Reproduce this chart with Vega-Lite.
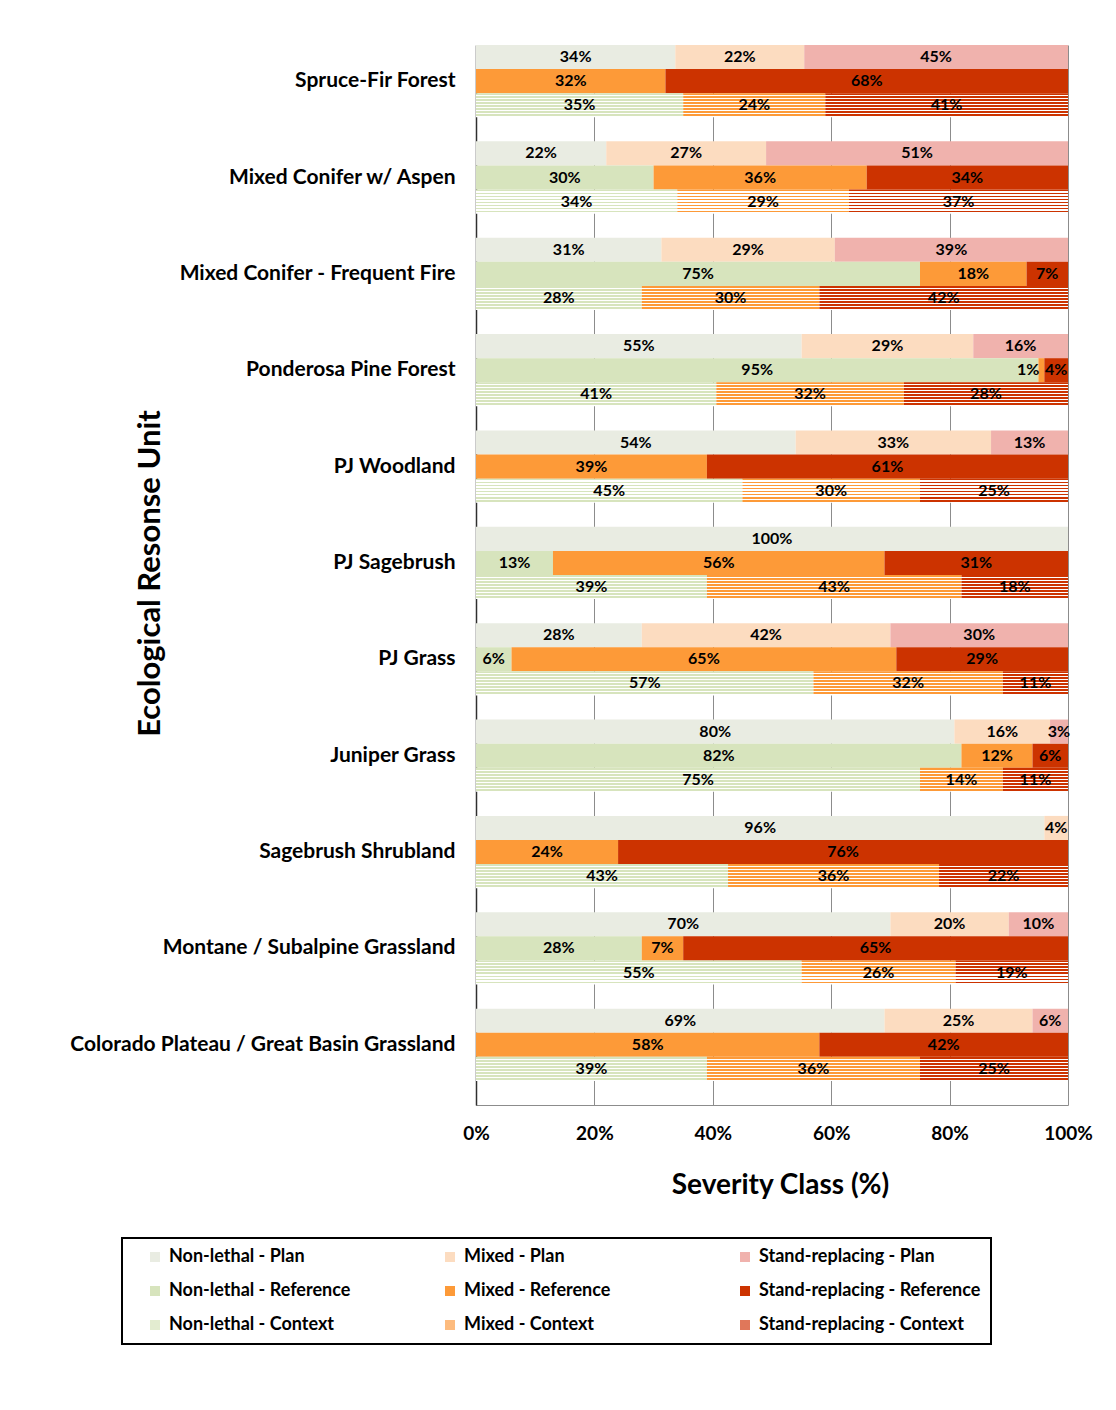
{
 "$schema": "https://vega.github.io/schema/vega-lite/v6.json",
 "autosize": {"type": "none"},
 "width": 592,
 "height": 1060,
 "padding": {"left": 476, "top": 45, "right": 48, "bottom": 305},
 "background": "white",
 "config": {"view": {"stroke": null}, "font": "Lato", "legend": {"strokeWidth": 2}},
 "data": {"values": [
  {"unit": "Spruce-Fir Forest", "scen": "Plan", "cls": "Non-lethal", "value": 34},
  {"unit": "Spruce-Fir Forest", "scen": "Plan", "cls": "Mixed", "value": 22},
  {"unit": "Spruce-Fir Forest", "scen": "Plan", "cls": "Stand-replacing", "value": 45},
  {"unit": "Spruce-Fir Forest", "scen": "Reference", "cls": "Mixed", "value": 32},
  {"unit": "Spruce-Fir Forest", "scen": "Reference", "cls": "Stand-replacing", "value": 68},
  {"unit": "Spruce-Fir Forest", "scen": "Context", "cls": "Non-lethal", "value": 35},
  {"unit": "Spruce-Fir Forest", "scen": "Context", "cls": "Mixed", "value": 24},
  {"unit": "Spruce-Fir Forest", "scen": "Context", "cls": "Stand-replacing", "value": 41},
  {"unit": "Mixed Conifer w/ Aspen", "scen": "Plan", "cls": "Non-lethal", "value": 22},
  {"unit": "Mixed Conifer w/ Aspen", "scen": "Plan", "cls": "Mixed", "value": 27},
  {"unit": "Mixed Conifer w/ Aspen", "scen": "Plan", "cls": "Stand-replacing", "value": 51},
  {"unit": "Mixed Conifer w/ Aspen", "scen": "Reference", "cls": "Non-lethal", "value": 30},
  {"unit": "Mixed Conifer w/ Aspen", "scen": "Reference", "cls": "Mixed", "value": 36},
  {"unit": "Mixed Conifer w/ Aspen", "scen": "Reference", "cls": "Stand-replacing", "value": 34},
  {"unit": "Mixed Conifer w/ Aspen", "scen": "Context", "cls": "Non-lethal", "value": 34},
  {"unit": "Mixed Conifer w/ Aspen", "scen": "Context", "cls": "Mixed", "value": 29},
  {"unit": "Mixed Conifer w/ Aspen", "scen": "Context", "cls": "Stand-replacing", "value": 37},
  {"unit": "Mixed Conifer - Frequent Fire", "scen": "Plan", "cls": "Non-lethal", "value": 31},
  {"unit": "Mixed Conifer - Frequent Fire", "scen": "Plan", "cls": "Mixed", "value": 29},
  {"unit": "Mixed Conifer - Frequent Fire", "scen": "Plan", "cls": "Stand-replacing", "value": 39},
  {"unit": "Mixed Conifer - Frequent Fire", "scen": "Reference", "cls": "Non-lethal", "value": 75},
  {"unit": "Mixed Conifer - Frequent Fire", "scen": "Reference", "cls": "Mixed", "value": 18},
  {"unit": "Mixed Conifer - Frequent Fire", "scen": "Reference", "cls": "Stand-replacing", "value": 7},
  {"unit": "Mixed Conifer - Frequent Fire", "scen": "Context", "cls": "Non-lethal", "value": 28},
  {"unit": "Mixed Conifer - Frequent Fire", "scen": "Context", "cls": "Mixed", "value": 30},
  {"unit": "Mixed Conifer - Frequent Fire", "scen": "Context", "cls": "Stand-replacing", "value": 42},
  {"unit": "Ponderosa Pine Forest", "scen": "Plan", "cls": "Non-lethal", "value": 55},
  {"unit": "Ponderosa Pine Forest", "scen": "Plan", "cls": "Mixed", "value": 29},
  {"unit": "Ponderosa Pine Forest", "scen": "Plan", "cls": "Stand-replacing", "value": 16},
  {"unit": "Ponderosa Pine Forest", "scen": "Reference", "cls": "Non-lethal", "value": 95},
  {"unit": "Ponderosa Pine Forest", "scen": "Reference", "cls": "Mixed", "value": 1},
  {"unit": "Ponderosa Pine Forest", "scen": "Reference", "cls": "Stand-replacing", "value": 4},
  {"unit": "Ponderosa Pine Forest", "scen": "Context", "cls": "Non-lethal", "value": 41},
  {"unit": "Ponderosa Pine Forest", "scen": "Context", "cls": "Mixed", "value": 32},
  {"unit": "Ponderosa Pine Forest", "scen": "Context", "cls": "Stand-replacing", "value": 28},
  {"unit": "PJ Woodland", "scen": "Plan", "cls": "Non-lethal", "value": 54},
  {"unit": "PJ Woodland", "scen": "Plan", "cls": "Mixed", "value": 33},
  {"unit": "PJ Woodland", "scen": "Plan", "cls": "Stand-replacing", "value": 13},
  {"unit": "PJ Woodland", "scen": "Reference", "cls": "Mixed", "value": 39},
  {"unit": "PJ Woodland", "scen": "Reference", "cls": "Stand-replacing", "value": 61},
  {"unit": "PJ Woodland", "scen": "Context", "cls": "Non-lethal", "value": 45},
  {"unit": "PJ Woodland", "scen": "Context", "cls": "Mixed", "value": 30},
  {"unit": "PJ Woodland", "scen": "Context", "cls": "Stand-replacing", "value": 25},
  {"unit": "PJ Sagebrush", "scen": "Plan", "cls": "Non-lethal", "value": 100},
  {"unit": "PJ Sagebrush", "scen": "Reference", "cls": "Non-lethal", "value": 13},
  {"unit": "PJ Sagebrush", "scen": "Reference", "cls": "Mixed", "value": 56},
  {"unit": "PJ Sagebrush", "scen": "Reference", "cls": "Stand-replacing", "value": 31},
  {"unit": "PJ Sagebrush", "scen": "Context", "cls": "Non-lethal", "value": 39},
  {"unit": "PJ Sagebrush", "scen": "Context", "cls": "Mixed", "value": 43},
  {"unit": "PJ Sagebrush", "scen": "Context", "cls": "Stand-replacing", "value": 18},
  {"unit": "PJ Grass", "scen": "Plan", "cls": "Non-lethal", "value": 28},
  {"unit": "PJ Grass", "scen": "Plan", "cls": "Mixed", "value": 42},
  {"unit": "PJ Grass", "scen": "Plan", "cls": "Stand-replacing", "value": 30},
  {"unit": "PJ Grass", "scen": "Reference", "cls": "Non-lethal", "value": 6},
  {"unit": "PJ Grass", "scen": "Reference", "cls": "Mixed", "value": 65},
  {"unit": "PJ Grass", "scen": "Reference", "cls": "Stand-replacing", "value": 29},
  {"unit": "PJ Grass", "scen": "Context", "cls": "Non-lethal", "value": 57},
  {"unit": "PJ Grass", "scen": "Context", "cls": "Mixed", "value": 32},
  {"unit": "PJ Grass", "scen": "Context", "cls": "Stand-replacing", "value": 11},
  {"unit": "Juniper Grass", "scen": "Plan", "cls": "Non-lethal", "value": 80},
  {"unit": "Juniper Grass", "scen": "Plan", "cls": "Mixed", "value": 16},
  {"unit": "Juniper Grass", "scen": "Plan", "cls": "Stand-replacing", "value": 3},
  {"unit": "Juniper Grass", "scen": "Reference", "cls": "Non-lethal", "value": 82},
  {"unit": "Juniper Grass", "scen": "Reference", "cls": "Mixed", "value": 12},
  {"unit": "Juniper Grass", "scen": "Reference", "cls": "Stand-replacing", "value": 6},
  {"unit": "Juniper Grass", "scen": "Context", "cls": "Non-lethal", "value": 75},
  {"unit": "Juniper Grass", "scen": "Context", "cls": "Mixed", "value": 14},
  {"unit": "Juniper Grass", "scen": "Context", "cls": "Stand-replacing", "value": 11},
  {"unit": "Sagebrush Shrubland", "scen": "Plan", "cls": "Non-lethal", "value": 96},
  {"unit": "Sagebrush Shrubland", "scen": "Plan", "cls": "Mixed", "value": 4},
  {"unit": "Sagebrush Shrubland", "scen": "Reference", "cls": "Mixed", "value": 24},
  {"unit": "Sagebrush Shrubland", "scen": "Reference", "cls": "Stand-replacing", "value": 76},
  {"unit": "Sagebrush Shrubland", "scen": "Context", "cls": "Non-lethal", "value": 43},
  {"unit": "Sagebrush Shrubland", "scen": "Context", "cls": "Mixed", "value": 36},
  {"unit": "Sagebrush Shrubland", "scen": "Context", "cls": "Stand-replacing", "value": 22},
  {"unit": "Montane / Subalpine Grassland", "scen": "Plan", "cls": "Non-lethal", "value": 70},
  {"unit": "Montane / Subalpine Grassland", "scen": "Plan", "cls": "Mixed", "value": 20},
  {"unit": "Montane / Subalpine Grassland", "scen": "Plan", "cls": "Stand-replacing", "value": 10},
  {"unit": "Montane / Subalpine Grassland", "scen": "Reference", "cls": "Non-lethal", "value": 28},
  {"unit": "Montane / Subalpine Grassland", "scen": "Reference", "cls": "Mixed", "value": 7},
  {"unit": "Montane / Subalpine Grassland", "scen": "Reference", "cls": "Stand-replacing", "value": 65},
  {"unit": "Montane / Subalpine Grassland", "scen": "Context", "cls": "Non-lethal", "value": 55},
  {"unit": "Montane / Subalpine Grassland", "scen": "Context", "cls": "Mixed", "value": 26},
  {"unit": "Montane / Subalpine Grassland", "scen": "Context", "cls": "Stand-replacing", "value": 19},
  {"unit": "Colorado Plateau / Great Basin Grassland", "scen": "Plan", "cls": "Non-lethal", "value": 69},
  {"unit": "Colorado Plateau / Great Basin Grassland", "scen": "Plan", "cls": "Mixed", "value": 25},
  {"unit": "Colorado Plateau / Great Basin Grassland", "scen": "Plan", "cls": "Stand-replacing", "value": 6},
  {"unit": "Colorado Plateau / Great Basin Grassland", "scen": "Reference", "cls": "Mixed", "value": 58},
  {"unit": "Colorado Plateau / Great Basin Grassland", "scen": "Reference", "cls": "Stand-replacing", "value": 42},
  {"unit": "Colorado Plateau / Great Basin Grassland", "scen": "Context", "cls": "Non-lethal", "value": 39},
  {"unit": "Colorado Plateau / Great Basin Grassland", "scen": "Context", "cls": "Mixed", "value": 36},
  {"unit": "Colorado Plateau / Great Basin Grassland", "scen": "Context", "cls": "Stand-replacing", "value": 25}
 ]},
 "transform": [
  {"calculate": "indexof(['Non-lethal','Mixed','Stand-replacing'], datum.cls)", "as": "k"},
  {"calculate": "datum.cls + ' - ' + datum.scen", "as": "series"},
  {"stack": "value", "groupby": ["unit", "scen"], "sort": [{"field": "k", "order": "ascending"}], "offset": "normalize", "as": ["v0", "v1"]},
  {"calculate": "(datum.v0 + datum.v1) / 2", "as": "mid"},
  {"calculate": "datum.value + '%'", "as": "lbl"}
 ],
 "encoding": {
  "y": {
   "field": "unit", "type": "nominal",
   "sort": ["Spruce-Fir Forest", "Mixed Conifer w/ Aspen", "Mixed Conifer - Frequent Fire", "Ponderosa Pine Forest", "PJ Woodland", "PJ Sagebrush", "PJ Grass", "Juniper Grass", "Sagebrush Shrubland", "Montane / Subalpine Grassland", "Colorado Plateau / Great Basin Grassland"],
   "scale": {"paddingInner": 0.25, "paddingOuter": 0.125, "align": 0},
   "axis": {
    "title": "Ecological Resonse Unit", "titleFontSize": 31, "titleFontWeight": "bold", "titleColor": "black",
    "titleX": -326, "titleY": 528, "titleAngle": -90, "titleAlign": "center", "titleBaseline": "middle",
    "labelFontSize": 21, "labelFontWeight": "bold", "labelColor": "black", "labelLimit": 500,
    "ticks": false, "labelPadding": 21, "domainColor": "#303030", "domainWidth": 1.5
   }
  },
  "yOffset": {"field": "scen", "type": "nominal", "sort": ["Plan", "Reference", "Context"], "scale": {"paddingInner": 0, "paddingOuter": 0}},
  "x": {"field": "v0", "type": "quantitative"},
  "x2": {"field": "v1"}
 },
 "layer": [
  {
   "transform": [{"filter": "datum.scen !== 'Context'"}],
   "mark": {"type": "bar", "strokeWidth": 0},
   "encoding": {
    "x": {
     "field": "v0", "type": "quantitative", "scale": {"domain": [0, 1], "nice": false},
     "axis": {
      "format": ".0%", "values": [0, 0.2, 0.4, 0.6, 0.8, 1], "title": "Severity Class (%)",
      "titleFontSize": 28, "titleFontWeight": "bold", "titleColor": "black", "titlePadding": 28, "titleX": 304, "titleAlign": "center",
      "labelFontSize": 19, "labelFontWeight": "bold", "labelColor": "black", "labelFlush": false, "labelPadding": 19,
      "ticks": false, "grid": true, "gridColor": "#8c8c8c", "gridWidth": 1, "domainColor": "#8c8c8c", "domainWidth": 1
     }
    },
    "fill": {
     "field": "series", "type": "nominal",
     "scale": {
      "domain": ["Non-lethal - Plan", "Non-lethal - Reference", "Non-lethal - Context", "Mixed - Plan", "Mixed - Reference", "Mixed - Context", "Stand-replacing - Plan", "Stand-replacing - Reference", "Stand-replacing - Context"],
      "range": ["#e9ece2", "#d7e4bd", "#e3ecd0", "#fcdcc0", "#fd9a38", "#fdbb7e", "#f0b2ad", "#cc3300", "#e0775a"]
     },
     "legend": {
      "title": " ", "titleOrient": "left", "titlePadding": 14, "titleFontSize": 18,
      "orient": "none", "legendX": -354, "legendY": 1193, "columns": 3, "gridAlign": "all",
      "columnPadding": 50, "rowPadding": 16, "padding": 10, "strokeColor": "black",
      "symbolType": "square", "symbolSize": 100, "symbolStrokeWidth": 0, "symbolOpacity": 1,
      "labelFontSize": 18, "labelFontWeight": "bold", "labelColor": "black", "labelLimit": 400, "labelOffset": 5
     }
    }
   }
  },
  {
   "transform": [{"filter": "datum.series === 'Non-lethal - Context'"}],
   "mark": {"type": "bar", "strokeWidth": 0, "fill": {"gradient": "linear", "x1": 0, "y1": 0, "x2": 0, "y2": 1, "stops": [
        {"offset": 0, "color": "#d7e4bd"}, {"offset": 0.075, "color": "#d7e4bd"}, {"offset": 0.075, "color": "#ffffff"}, {"offset": 0.125, "color": "#ffffff"},
        {"offset": 0.125, "color": "#d7e4bd"}, {"offset": 0.2, "color": "#d7e4bd"}, {"offset": 0.2, "color": "#ffffff"}, {"offset": 0.25, "color": "#ffffff"},
        {"offset": 0.25, "color": "#d7e4bd"}, {"offset": 0.325, "color": "#d7e4bd"}, {"offset": 0.325, "color": "#ffffff"}, {"offset": 0.375, "color": "#ffffff"},
        {"offset": 0.375, "color": "#d7e4bd"}, {"offset": 0.45, "color": "#d7e4bd"}, {"offset": 0.45, "color": "#ffffff"}, {"offset": 0.5, "color": "#ffffff"},
        {"offset": 0.5, "color": "#d7e4bd"}, {"offset": 0.575, "color": "#d7e4bd"}, {"offset": 0.575, "color": "#ffffff"}, {"offset": 0.625, "color": "#ffffff"},
        {"offset": 0.625, "color": "#d7e4bd"}, {"offset": 0.7, "color": "#d7e4bd"}, {"offset": 0.7, "color": "#ffffff"}, {"offset": 0.75, "color": "#ffffff"},
        {"offset": 0.75, "color": "#d7e4bd"}, {"offset": 0.825, "color": "#d7e4bd"}, {"offset": 0.825, "color": "#ffffff"}, {"offset": 0.875, "color": "#ffffff"},
        {"offset": 0.875, "color": "#d7e4bd"}, {"offset": 0.95, "color": "#d7e4bd"}, {"offset": 0.95, "color": "#ffffff"}, {"offset": 1, "color": "#ffffff"}
       ]}},
   "encoding": {}
  },
  {
   "transform": [{"filter": "datum.series === 'Mixed - Context'"}],
   "mark": {"type": "bar", "strokeWidth": 0, "fill": {"gradient": "linear", "x1": 0, "y1": 0, "x2": 0, "y2": 1, "stops": [
        {"offset": 0, "color": "#fd9a38"}, {"offset": 0.075, "color": "#fd9a38"}, {"offset": 0.075, "color": "#ffffff"}, {"offset": 0.125, "color": "#ffffff"},
        {"offset": 0.125, "color": "#fd9a38"}, {"offset": 0.2, "color": "#fd9a38"}, {"offset": 0.2, "color": "#ffffff"}, {"offset": 0.25, "color": "#ffffff"},
        {"offset": 0.25, "color": "#fd9a38"}, {"offset": 0.325, "color": "#fd9a38"}, {"offset": 0.325, "color": "#ffffff"}, {"offset": 0.375, "color": "#ffffff"},
        {"offset": 0.375, "color": "#fd9a38"}, {"offset": 0.45, "color": "#fd9a38"}, {"offset": 0.45, "color": "#ffffff"}, {"offset": 0.5, "color": "#ffffff"},
        {"offset": 0.5, "color": "#fd9a38"}, {"offset": 0.575, "color": "#fd9a38"}, {"offset": 0.575, "color": "#ffffff"}, {"offset": 0.625, "color": "#ffffff"},
        {"offset": 0.625, "color": "#fd9a38"}, {"offset": 0.7, "color": "#fd9a38"}, {"offset": 0.7, "color": "#ffffff"}, {"offset": 0.75, "color": "#ffffff"},
        {"offset": 0.75, "color": "#fd9a38"}, {"offset": 0.825, "color": "#fd9a38"}, {"offset": 0.825, "color": "#ffffff"}, {"offset": 0.875, "color": "#ffffff"},
        {"offset": 0.875, "color": "#fd9a38"}, {"offset": 0.95, "color": "#fd9a38"}, {"offset": 0.95, "color": "#ffffff"}, {"offset": 1, "color": "#ffffff"}
       ]}},
   "encoding": {}
  },
  {
   "transform": [{"filter": "datum.series === 'Stand-replacing - Context'"}],
   "mark": {"type": "bar", "strokeWidth": 0, "fill": {"gradient": "linear", "x1": 0, "y1": 0, "x2": 0, "y2": 1, "stops": [
        {"offset": 0, "color": "#cc3300"}, {"offset": 0.075, "color": "#cc3300"}, {"offset": 0.075, "color": "#ffffff"}, {"offset": 0.125, "color": "#ffffff"},
        {"offset": 0.125, "color": "#cc3300"}, {"offset": 0.2, "color": "#cc3300"}, {"offset": 0.2, "color": "#ffffff"}, {"offset": 0.25, "color": "#ffffff"},
        {"offset": 0.25, "color": "#cc3300"}, {"offset": 0.325, "color": "#cc3300"}, {"offset": 0.325, "color": "#ffffff"}, {"offset": 0.375, "color": "#ffffff"},
        {"offset": 0.375, "color": "#cc3300"}, {"offset": 0.45, "color": "#cc3300"}, {"offset": 0.45, "color": "#ffffff"}, {"offset": 0.5, "color": "#ffffff"},
        {"offset": 0.5, "color": "#cc3300"}, {"offset": 0.575, "color": "#cc3300"}, {"offset": 0.575, "color": "#ffffff"}, {"offset": 0.625, "color": "#ffffff"},
        {"offset": 0.625, "color": "#cc3300"}, {"offset": 0.7, "color": "#cc3300"}, {"offset": 0.7, "color": "#ffffff"}, {"offset": 0.75, "color": "#ffffff"},
        {"offset": 0.75, "color": "#cc3300"}, {"offset": 0.825, "color": "#cc3300"}, {"offset": 0.825, "color": "#ffffff"}, {"offset": 0.875, "color": "#ffffff"},
        {"offset": 0.875, "color": "#cc3300"}, {"offset": 0.95, "color": "#cc3300"}, {"offset": 0.95, "color": "#ffffff"}, {"offset": 1, "color": "#ffffff"}
       ]}},
   "encoding": {}
  },
  {
   "transform": [{"filter": "datum.v1 - datum.v0 >= 0.02"}],
   "mark": {"type": "text", "fontSize": 16, "fontWeight": "bold", "color": "black", "baseline": "middle", "align": "center"},
   "encoding": {
    "x": {"field": "mid", "type": "quantitative"},
    "x2": null,
    "text": {"field": "lbl"}
   }
  },
  {
   "transform": [{"filter": "datum.v1 - datum.v0 < 0.02"}],
   "mark": {"type": "text", "fontSize": 16, "fontWeight": "bold", "color": "black", "baseline": "middle", "align": "right", "dx": 1},
   "encoding": {
    "x": {"field": "v0", "type": "quantitative"},
    "x2": null,
    "text": {"field": "lbl"}
   }
  }
 ]
}
